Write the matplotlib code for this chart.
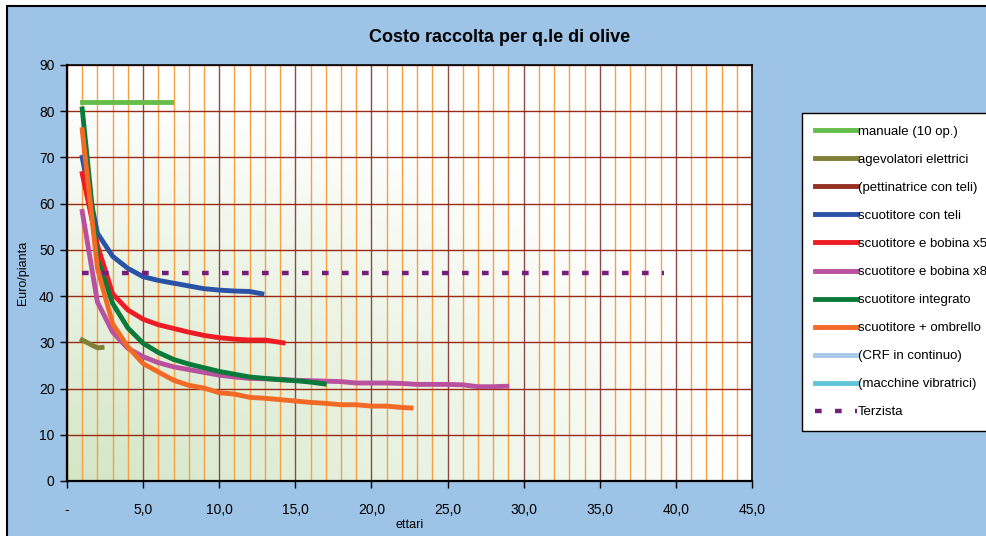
import matplotlib
matplotlib.use("Agg")
import matplotlib.pyplot as plt
import numpy as np
from matplotlib.patches import Rectangle
from matplotlib.ticker import MultipleLocator

plt.rcParams["font.family"] = ["Liberation Sans", "DejaVu Sans"]

# ── Data ─────────────────────────────────────────────────────────────────
manuale_x = [1, 2, 3, 4, 5, 6, 6.8]
manuale_y = [82, 82, 82, 82, 82, 82, 82]

agevolatori_x = [1, 2, 2.3]
agevolatori_y = [30.5, 28.8, 28.9]

teli_x = [1, 2, 3, 4, 5, 6, 7, 8, 9, 10, 11, 12, 12.8]
teli_y = [70, 53.6, 48.6, 46.0, 44.2, 43.4, 42.8, 42.2, 41.6, 41.3, 41.1, 41.0, 40.5]

bobina5_x = [1, 2, 3, 4, 5, 6, 7, 8, 9, 10, 11, 12, 13, 14.2]
bobina5_y = [66.5, 51, 40.5, 37.0, 35.0, 33.8, 33.0, 32.2, 31.5, 31.0, 30.7, 30.5, 30.5, 29.9]

bobina8_x = [1, 2, 3, 4, 5, 6, 7, 8, 9, 10, 11, 12, 13, 14, 15, 16, 17, 18,
             19, 20, 21, 22, 23, 24, 25, 26, 27, 28, 28.9]
bobina8_y = [58.3, 38.7, 32.2, 28.7, 26.9, 25.6, 24.7, 24.1, 23.5, 22.9, 22.5,
             22.2, 22.1, 22.0, 21.8, 21.7, 21.6, 21.5, 21.2, 21.2, 21.2, 21.1,
             20.9, 20.9, 20.9, 20.8, 20.4, 20.4, 20.5]

integrato_x = [1, 2, 3, 4, 5, 6, 7, 8, 9, 10, 11, 12, 13, 14, 15, 16, 16.9]
integrato_y = [80.5, 48, 38.4, 33.1, 29.8, 27.8, 26.3, 25.3, 24.5, 23.7, 23.1,
               22.5, 22.2, 21.9, 21.7, 21.4, 21.0]

ombrello_x = [1, 2, 3, 4, 5, 6, 7, 8, 9, 10, 11, 12, 13, 14, 15, 16, 17, 18,
              19, 20, 21, 22, 22.6]
ombrello_y = [76, 46, 34, 29, 25.4, 23.6, 21.8, 20.7, 20.1, 19.1, 18.8, 18.1,
              17.9, 17.6, 17.3, 17.0, 16.8, 16.5, 16.5, 16.2, 16.2, 15.9, 15.8]

terzista_x = [1, 39.2]
terzista_y = [45, 45]

x_ticks = [0, 5, 10, 15, 20, 25, 30, 35, 40, 45]
x_tick_labels = ["-", "5,0", "10,0", "15,0", "20,0", "25,0", "30,0", "35,0", "40,0", "45,0"]

BG = "#9DC3E6"

fig = plt.figure(figsize=(9.87, 5.36), dpi=100, facecolor="white")
fig.patches.append(Rectangle((7 / 987, -0.02), 1.0, 1 - 6 / 536 + 0.02,
                             transform=fig.transFigure, facecolor=BG,
                             edgecolor="black", linewidth=1.5, zorder=-10))

ax = fig.add_axes([67 / 987, 1 - 481 / 536, (752 - 67) / 987, (481 - 65) / 536])

# gradient background: green in bottom-left corner fading to white
gx, gy = np.meshgrid(np.linspace(0, 1, 300), np.linspace(0, 1, 200))
inten = np.clip(1 - np.sqrt(gx ** 2 + (gy / 0.95) ** 2), 0, 1)
green = np.array([211, 230, 197]) / 255
img = 1 - inten[..., None] * (1 - green)
ax.imshow(img, extent=[0, 45, 0, 90], origin="lower", aspect="auto", zorder=0)

lw = 3.5
ax.plot(manuale_x, manuale_y, color="#66BD4A", lw=lw, label="manuale (10 op.)")
ax.plot(agevolatori_x, agevolatori_y, color="#7F7F35", lw=lw, label="agevolatori elettrici")
ax.plot([], [], color="#953022", lw=lw, label="(pettinatrice con teli)")
ax.plot(teli_x, teli_y, color="#2A52A6", lw=lw, label="scuotitore con teli")
ax.plot(bobina5_x, bobina5_y, color="#EE1C25", lw=lw, label="scuotitore e bobina x5")
ax.plot(bobina8_x, bobina8_y, color="#B9519F", lw=lw, label="scuotitore e bobina x8")
ax.plot(integrato_x, integrato_y, color="#0A7A3B", lw=lw, label="scuotitore integrato")
ax.plot(ombrello_x, ombrello_y, color="#F26A25", lw=lw, label="scuotitore + ombrello")
ax.plot([], [], color="#A6C9EA", lw=lw, label="(CRF in continuo)")
ax.plot([], [], color="#5FC6D8", lw=lw, label="(macchine vibratrici)")
ax.plot(terzista_x, terzista_y, color="#74207A", lw=3.2, dashes=(1.5, 3),
        label="Terzista")

ax.set_xlim(0, 45)
ax.set_ylim(0, 90)
ax.set_xticks(x_ticks)
ax.set_xticklabels(x_tick_labels)
ax.set_yticks(range(0, 91, 10))
ax.xaxis.set_minor_locator(MultipleLocator(1))

ax.set_axisbelow(True)
ax.grid(which="minor", axis="x", color="#F6A043", lw=1.0)
ax.grid(which="major", axis="x", color="#8E4A45", lw=1.0)
ax.grid(which="major", axis="y", color="#9A2A12", lw=1.0)

ax.tick_params(which="minor", length=0)
ax.tick_params(axis="x", which="major", direction="out", length=5, width=1,
               pad=11, labelsize=10)
ax.tick_params(axis="y", which="major", direction="out", length=5, width=1,
               pad=4, labelsize=10)
for s in ax.spines.values():
    s.set_color("black")
    s.set_linewidth(1.2)
ax.spines["left"].set_linewidth(1.6)
ax.spines["bottom"].set_linewidth(1.6)

ax.set_xlabel("ettari", fontsize=9, labelpad=1)
ax.set_ylabel("Euro/pianta", fontsize=9, labelpad=7)

fig.text(500 / 987, 1 - 37 / 536, "Costo raccolta per q.le di olive",
         fontsize=13, fontweight="bold", ha="center", va="center")

leg = fig.legend(loc="upper left", bbox_to_anchor=(802 / 987, 1 - 113 / 536),
                 fontsize=9.5, frameon=True, fancybox=False, framealpha=1,
                 edgecolor="black", handlelength=3.2, handletextpad=0.1,
                 labelspacing=1.2, borderpad=0.95, borderaxespad=0)
leg.get_frame().set_linewidth(1.0)

fig.savefig("out.png", dpi=100, facecolor=fig.get_facecolor())
